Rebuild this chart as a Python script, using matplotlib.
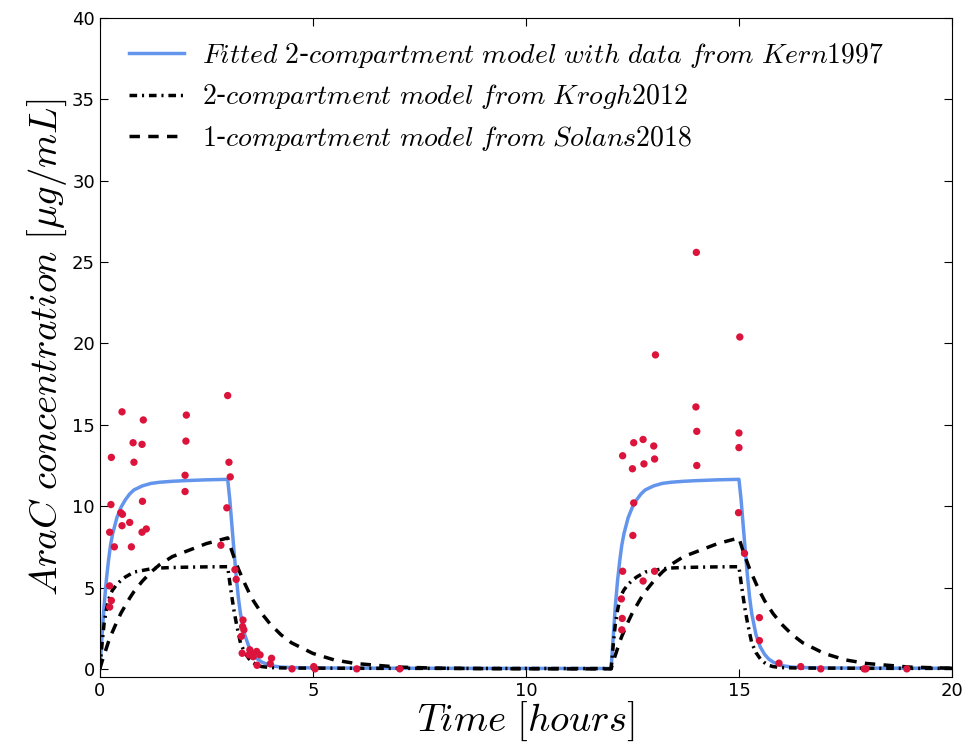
import matplotlib
matplotlib.use('Agg')
import matplotlib.pyplot as plt

plt.rcParams['mathtext.fontset'] = 'cm'

# model curves (time in hours, concentration in ug/mL)
time_h = [0, 0.05, 0.1, 0.15, 0.2, 0.25, 0.3, 0.4, 0.5, 0.6, 0.7, 0.8, 1.0, 1.2, 1.4, 1.7, 2.0, 2.5, 3.0,
          3.05, 3.1, 3.15, 3.2, 3.25, 3.3, 3.4, 3.5, 3.6, 3.7, 3.8,
          4.0, 4.25, 4.5, 5.0, 5.5, 6.0,
          7.0, 8.0, 9.0, 10.0, 11.0, 12.0,
          12.05, 12.1, 12.15, 12.2, 12.25, 12.3, 12.4, 12.5, 12.6, 12.7, 12.8, 13.0, 13.2, 13.4, 13.7, 14.0, 14.5, 15.0,
          15.05, 15.1, 15.15, 15.2, 15.25, 15.3, 15.4, 15.5, 15.6, 15.7, 15.8,
          16.0, 16.25, 16.5, 17.0, 17.5, 18.0,
          19.0, 20.0]

fitted_kern = [0.0, 2.0, 3.9, 5.4, 6.6, 7.6, 8.3, 9.3, 9.95, 10.4, 10.75, 11.0, 11.25, 11.4, 11.47, 11.53, 11.57, 11.62, 11.65,
               10.4, 8.8, 7.2, 5.7, 4.4, 3.4, 2.1, 1.35, 0.9, 0.6, 0.42,
               0.2, 0.11, 0.08, 0.06, 0.05, 0.045,
               0.04, 0.035, 0.03, 0.03, 0.025, 0.025,
               2.0, 3.9, 5.4, 6.6, 7.6, 8.3, 9.3, 9.95, 10.4, 10.75, 11.0, 11.25, 11.4, 11.47, 11.53, 11.57, 11.62, 11.65,
               10.4, 8.8, 7.2, 5.7, 4.4, 3.4, 2.1, 1.35, 0.9, 0.6, 0.42,
               0.2, 0.11, 0.08, 0.06, 0.05, 0.045,
               0.04, 0.035]

krogh_2comp = [0.0, 1.5, 2.8, 3.6, 4.2, 4.6, 4.85, 5.2, 5.45, 5.65, 5.8, 5.95, 6.05, 6.15, 6.2, 6.23, 6.25, 6.27, 6.28,
               5.3, 4.4, 3.55, 2.85, 2.2, 1.6, 1.0, 0.62, 0.38, 0.22, 0.14,
               0.08, 0.06, 0.05, 0.045, 0.04, 0.035,
               0.03, 0.03, 0.025, 0.025, 0.02, 0.02,
               1.5, 2.8, 3.6, 4.2, 4.6, 4.85, 5.2, 5.45, 5.65, 5.8, 5.95, 6.05, 6.15, 6.2, 6.23, 6.25, 6.27, 6.28,
               5.3, 4.4, 3.55, 2.85, 2.2, 1.6, 1.0, 0.62, 0.38, 0.22, 0.14,
               0.08, 0.06, 0.05, 0.045, 0.04, 0.035,
               0.03, 0.03]

solans_1comp = [0.0, 0.45, 0.85, 1.25, 1.65, 2.0, 2.3, 2.9, 3.45, 3.9, 4.35, 4.75, 5.4, 5.95, 6.4, 6.9, 7.2, 7.7, 8.05,
                7.63, 7.23, 6.85, 6.5, 6.15, 5.85, 5.25, 4.7, 4.2, 3.8, 3.4,
                2.75, 2.1, 1.6, 0.95, 0.55, 0.33,
                0.11, 0.04, 0.015, 0.005, 0.0, 0.0,
                0.45, 0.85, 1.25, 1.65, 2.0, 2.3, 2.9, 3.45, 3.9, 4.35, 4.75, 5.4, 5.95, 6.4, 6.9, 7.2, 7.7, 8.05,
                7.63, 7.23, 6.85, 6.5, 6.15, 5.85, 5.25, 4.7, 4.2, 3.8, 3.4,
                2.75, 2.1, 1.6, 0.95, 0.55, 0.33,
                0.11, 0.04]

# measured data (Kern 1997)
data_t = [0.52, 1.02, 2.03, 3.0, 0.78, 0.99, 2.02, 0.27, 0.80, 3.03, 3.06, 2.0, 2.0,
          0.26, 1.0, 2.98, 0.49, 0.53, 0.52, 0.70, 0.23, 0.99, 1.09, 0.34, 0.74, 2.84,
          0.23, 0.27, 0.23, 3.17, 3.2, 3.36, 3.35, 3.38, 3.32, 3.34, 3.52, 3.68, 3.6,
          3.76, 3.5, 3.56, 3.69, 4.03, 4.0, 4.51, 5.02, 5.05, 6.03, 7.04,
          14.0, 15.02, 13.04, 13.99, 14.01, 15.0, 15.0, 12.53, 12.75, 13.0, 12.27, 12.5,
          12.77, 13.02, 14.01, 12.53, 14.99, 12.51, 12.27, 13.02, 12.75, 15.13, 12.24,
          12.26, 12.25, 15.48, 15.48, 15.94, 16.45, 16.92, 17.94, 17.98, 18.94]
data_c = [15.8, 15.3, 15.6, 16.8, 13.9, 13.8, 14.0, 13.0, 12.7, 12.7, 11.8, 11.9, 10.9,
          10.1, 10.3, 9.9, 9.6, 9.5, 8.8, 9.0, 8.4, 8.4, 8.6, 7.5, 7.5, 7.6,
          5.1, 4.2, 3.8, 6.1, 5.5, 3.0, 2.6, 2.4, 2.0, 0.96, 1.17, 1.07, 0.75,
          0.86, 0.86, 0.86, 0.22, 0.65, 0.31, 0.0, 0.14, 0.0, 0.0, 0.0,
          25.6, 20.4, 19.3, 16.1, 14.6, 14.5, 13.6, 13.9, 14.1, 13.7, 13.1, 12.3,
          12.6, 12.9, 12.5, 10.2, 9.6, 8.2, 6.0, 6.0, 5.4, 7.1, 4.3,
          3.1, 2.4, 3.15, 1.74, 0.35, 0.14, 0.0, 0.0, 0.0, 0.0]

fig = plt.figure(figsize=(9.79, 7.55), dpi=100)
ax = fig.add_axes([0.102, 0.1033, 0.8704, 0.8727])

ax.plot(time_h, fitted_kern, color='cornflowerblue', lw=2.5,
        label=r'$Fitted\ 2$-$compartment\ model\ with\ data\ from\ Kern1997$')
ax.plot(time_h, krogh_2comp, color='black', lw=2.5, linestyle=(0, (2.2, 1.4, 0.6, 1.4)),
        label=r'$2$-$compartment\ model\ from\ Krogh2012$')
ax.plot(time_h, solans_1comp, color='black', lw=2.5, linestyle=(0, (3, 2.4)),
        label=r'$1$-$compartment\ model\ from\ Solans2018$')
ax.scatter(data_t, data_c, s=28, color='crimson', edgecolors='none', zorder=3)

ax.set_xlim(0, 20)
ax.set_ylim(-0.5, 40)
ax.set_xticks([0, 5, 10, 15, 20])
ax.set_yticks(range(0, 41, 5))
ax.tick_params(direction='in', top=True, right=True, labelsize=13, length=6)

ax.set_xlabel(r'$Time\ [hours]$', fontsize=28, labelpad=0)
ax.set_ylabel(r'$AraC\ concentration\ [\mu g/mL]$', fontsize=28, labelpad=2)

ax.legend(loc='upper left', bbox_to_anchor=(0.0094, 0.997), frameon=False, fontsize=20,
          handlelength=2.0, handletextpad=0.65, labelspacing=0.45, borderaxespad=0.35)

fig.savefig('out.png', dpi=100)
